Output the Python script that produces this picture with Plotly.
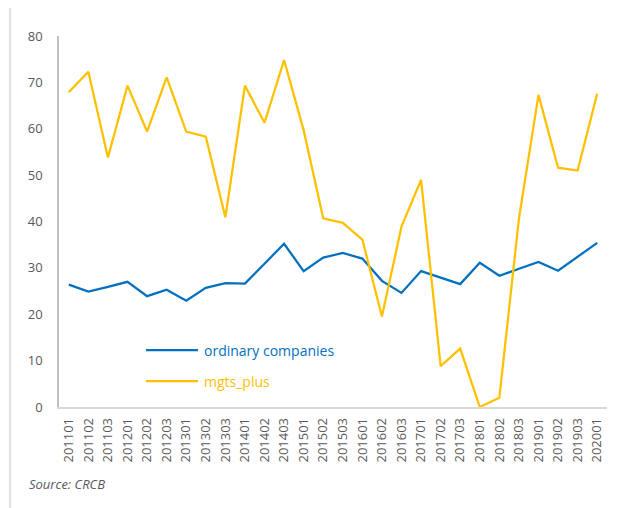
import plotly.graph_objects as go

categories = ["201101", "201102", "201103", "201201", "201202", "201203",
              "201301", "201302", "201303", "201401", "201402", "201403",
              "201501", "201502", "201503", "201601", "201602", "201603",
              "201701", "201702", "201703", "201801", "201802", "201803",
              "201901", "201902", "201903", "202001"]

ordinary_companies = [26.4, 24.9, 25.9, 27.0, 23.9, 25.3,
                      22.9, 25.7, 26.7, 26.6, 30.9, 35.2,
                      29.3, 32.2, 33.2, 32.0, 27.2, 24.6,
                      29.3, 27.9, 26.5, 31.1, 28.3, 29.8,
                      31.3, 29.4, 32.5, 35.4]

mgts_plus = [67.9, 72.3, 53.8, 69.3, 59.4, 71.1,
             59.4, 58.3, 40.9, 69.3, 61.3, 74.8,
             59.7, 40.7, 39.7, 36.1, 19.5, 38.9,
             49.0, 8.8, 12.6, 0.0, 2.0, 40.6,
             67.3, 51.6, 51.0, 67.6]

series_names = ["ordinary companies", "mgts_plus"]
y_ticks = [0, 10, 20, 30, 40, 50, 60, 70, 80]

BLUE = "#0070C0"
GOLD = "#FFC000"
FONT = "Open Sans, Liberation Sans, sans-serif"

# page body has an 8px default margin; compensate so the figure sits at page (0,0)-like coords
OFF = 8
W, H = 633 - OFF, 508 - OFF
# desired page-pixel plot area: x 59..607, y 36..407
PL, PR, PT, PB = 59, 607, 36, 407
L, T = PL - OFF, PT - OFF
R = W - (PR - OFF)
B = H - (PB - OFF)

def px_x(p):
    return (p - PL) / (PR - PL)

def px_y(p):
    return (PB - p) / (PB - PT)

fig = go.Figure()
fig.add_trace(go.Scatter(x=categories, y=ordinary_companies, mode="lines",
                         name=series_names[0], line=dict(color=BLUE, width=2.25)))
fig.add_trace(go.Scatter(x=categories, y=mgts_plus, mode="lines",
                         name=series_names[1], line=dict(color=GOLD, width=2.25)))

legend_rows = [(series_names[0], BLUE, 350), (series_names[1], GOLD, 381)]
shapes = [dict(type="rect", xref="paper", yref="paper",
               x0=px_x(10), x1=px_x(660), y0=px_y(540), y1=px_y(6),
               line=dict(color="#D9D9D9", width=1.5), layer="below")]
annotations = [dict(text="<i>Source: CRCB</i>", xref="paper", yref="paper",
                    x=px_x(27), y=px_y(484), xanchor="left", yanchor="middle",
                    showarrow=False, font=dict(size=13, color="#595959", family=FONT))]
for name, col, ypx in legend_rows:
    shapes.append(dict(type="line", xref="paper", yref="paper",
                       x0=px_x(146), x1=px_x(198), y0=px_y(ypx), y1=px_y(ypx),
                       line=dict(color=col, width=2.25)))
    annotations.append(dict(text=name, xref="paper", yref="paper",
                            x=px_x(202), y=px_y(ypx), xanchor="left", yanchor="middle",
                            showarrow=False, font=dict(size=14, color=col, family=FONT)))

fig.update_layout(
    width=W, height=H,
    margin=dict(l=L, r=R, t=T, b=B),
    paper_bgcolor="white", plot_bgcolor="white",
    font=dict(family=FONT, color="#595959", size=13),
    showlegend=False,
    xaxis=dict(type="category", range=[-0.5, len(categories) - 0.5],
               showgrid=False, showline=True, linecolor="#D9D9D9",
               linewidth=1.5, tickangle=-90, ticks="", tickfont=dict(size=13, color="#595959"),
               ticklabelstandoff=4, zeroline=False, automargin=False),
    yaxis=dict(range=[0, 80], tickvals=y_ticks, showgrid=False, showline=True,
               linecolor="#BFBFBF", linewidth=1.5, ticks="", zeroline=False,
               tickfont=dict(size=13, color="#595959"), ticklabelstandoff=12,
               automargin=False),
    shapes=shapes,
    annotations=annotations,
)

fig.write_html("out.html")
